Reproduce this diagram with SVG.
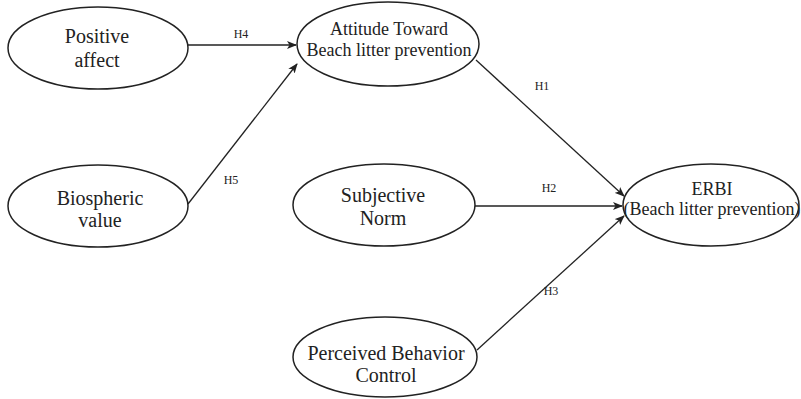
<svg xmlns="http://www.w3.org/2000/svg" width="801" height="399" viewBox="0 0 801 399">
<style>
.n ellipse{fill:#fff;stroke:#222;stroke-width:1.5}
.t{font-family:"Liberation Serif","Times New Roman",Tinos,"DejaVu Serif",serif;fill:#222;text-anchor:middle}
.big{font-size:20px}
.mid{font-size:18px}
.lbl{font-family:"Liberation Serif","Times New Roman",Tinos,"DejaVu Serif",serif;font-size:12px;fill:#222;text-anchor:middle}
.e line{stroke:#222;stroke-width:1.3;marker-end:url(#ah)}
</style>
<defs>
<marker id="ah" markerWidth="10" markerHeight="8" refX="9" refY="4" orient="auto" markerUnits="userSpaceOnUse">
<path d="M0,0 L10,4 L0,8 L2.5,4 Z" fill="#222"/>
</marker>
</defs>
<g id="edges" class="e">
<line x1="188" y1="45" x2="296" y2="45"/>
<line x1="188" y1="204" x2="297" y2="64"/>
<line x1="476" y1="60" x2="624" y2="196"/>
<line x1="475" y1="206" x2="622" y2="206"/>
<line x1="477" y1="350" x2="624" y2="216"/>
</g>
<g id="labels">
<text class="lbl" x="241" y="38">H4</text>
<text class="lbl" x="231" y="184">H5</text>
<text class="lbl" x="542" y="90">H1</text>
<text class="lbl" x="549" y="192">H2</text>
<text class="lbl" x="551" y="295">H3</text>
</g>
<g id="positive" class="n">
<ellipse cx="98" cy="48" rx="90" ry="41"/>
<text class="t big" x="97" y="43">Positive</text>
<text class="t big" x="97" y="67">affect</text>
</g>
<g id="attitude" class="n">
<ellipse cx="388" cy="44" rx="91" ry="42"/>
<text class="t mid" x="389" y="35">Attitude Toward</text>
<text class="t mid" x="389" y="56">Beach litter prevention</text>
</g>
<g id="biospheric" class="n">
<ellipse cx="98" cy="206" rx="90" ry="41"/>
<text class="t big" x="100" y="205">Biospheric</text>
<text class="t big" x="100" y="227">value</text>
</g>
<g id="subjective" class="n">
<ellipse cx="384" cy="205" rx="91" ry="41"/>
<text class="t big" x="383" y="202">Subjective</text>
<text class="t big" x="383" y="225">Norm</text>
</g>
<g id="perceived" class="n">
<ellipse cx="385" cy="357" rx="92" ry="40"/>
<text class="t big" x="386" y="360">Perceived Behavior</text>
<text class="t big" x="386" y="382">Control</text>
</g>
<g id="erbi" class="n">
<ellipse cx="711" cy="205" rx="88" ry="41"/>
<text class="t mid" x="712" y="195">ERBI</text>
<text class="t mid" x="712" y="215">(Beach litter prevention)</text>
</g>
</svg>
